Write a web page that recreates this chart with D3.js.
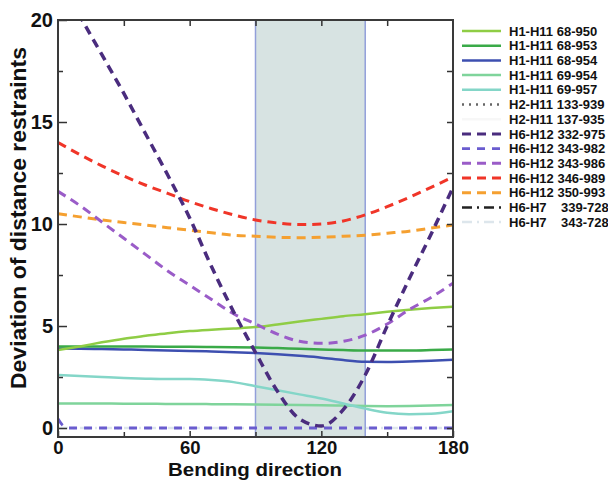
<!DOCTYPE html>
<html>
<head>
<meta charset="utf-8">
<script src="https://cdn.jsdelivr.net/npm/d3@7"></script>
<style>
  body { margin: 0; background: #fff; }
  text { font-family: "Liberation Sans", Arial, Helvetica, sans-serif; font-weight: bold; }
</style>
</head>
<body>
<div id="chart"></div>
<script>
// bending angle samples (degrees)
var angles = [0, 10, 20, 30, 40, 50, 60, 70, 80, 90, 100, 110, 120, 130, 140, 150, 160, 170, 180];
var anglesShort = [0, 2, 5, 180];

// deviation values
var dev68_950 = [3.82, 4.0, 4.2, 4.38, 4.52, 4.65, 4.75, 4.82, 4.88, 4.95, 5.08, 5.22, 5.35, 5.48, 5.58, 5.7, 5.8, 5.88, 5.95];
var dev68_953 = [4.0, 4.0, 4.0, 4.0, 3.99, 3.98, 3.98, 3.97, 3.96, 3.95, 3.92, 3.88, 3.85, 3.82, 3.8, 3.8, 3.8, 3.82, 3.85];
var dev68_954 = [3.9, 3.89, 3.87, 3.85, 3.83, 3.8, 3.78, 3.75, 3.72, 3.68, 3.62, 3.54, 3.45, 3.33, 3.25, 3.24, 3.26, 3.3, 3.35];
var dev69_954 = [1.2, 1.2, 1.2, 1.19, 1.19, 1.18, 1.18, 1.17, 1.16, 1.15, 1.14, 1.13, 1.12, 1.1, 1.08, 1.07, 1.08, 1.1, 1.13];
var dev69_957 = [2.6, 2.55, 2.5, 2.45, 2.42, 2.4, 2.4, 2.35, 2.25, 2.05, 1.85, 1.65, 1.45, 1.2, 0.95, 0.75, 0.68, 0.7, 0.82];
var dev332_975 = [22.3, 20.2, 18.3, 16.4, 14.4, 12.4, 10.3, 7.9, 5.7, 3.7, 1.8, 0.45, 0.1, 0.9, 2.6, 5.0, 7.3, 9.5, 11.8];
var dev343_982 = [0.45, 0.15, 0, 0];
var dev343_986 = [11.6, 10.9, 10.1, 9.3, 8.5, 7.7, 7.0, 6.3, 5.6, 5.1, 4.6, 4.25, 4.15, 4.25, 4.55, 5.1, 5.8, 6.4, 7.1];
var dev346_989 = [14.0, 13.4, 12.85, 12.35, 11.9, 11.5, 11.1, 10.75, 10.45, 10.2, 10.05, 9.97, 10.0, 10.15, 10.45, 10.85, 11.3, 11.8, 12.3];
var dev350_993 = [10.5, 10.35, 10.2, 10.07, 9.95, 9.82, 9.7, 9.57, 9.45, 9.4, 9.35, 9.33, 9.35, 9.4, 9.45, 9.55, 9.65, 9.8, 9.95];
var dev343_728 = [0, 0, 0, 0];

var legendLabels = ["H1-H11 68-950", "H1-H11 68-953", "H1-H11 68-954", "H1-H11 69-954", "H1-H11 69-957",
  "H2-H11 133-939", "H2-H11 137-935", "H6-H12 332-975", "H6-H12 343-982", "H6-H12 343-986",
  "H6-H12 346-989", "H6-H12 350-993", "H6-H7\u00a0\u00a0\u00a0 339-728", "H6-H7\u00a0\u00a0\u00a0 343-728"];

var band = [90, 140];
var xTicks = [0, 60, 120, 180];
var yTicks = [0, 5, 10, 15, 20];

// one entry per legend row; lines with no visible data have xs = null
var series = [
  {xs: angles, ys: dev68_950, color: "#8fcd45", dash: null, w: 2.5},
  {xs: angles, ys: dev68_953, color: "#3aaa48", dash: null, w: 2.5},
  {xs: angles, ys: dev68_954, color: "#3d4fb0", dash: null, w: 2.5},
  {xs: angles, ys: dev69_954, color: "#7fd49b", dash: null, w: 2.5},
  {xs: angles, ys: dev69_957, color: "#84d6c8", dash: null, w: 2.5},
  {xs: null, ys: null, color: "#666", dash: "2,5", w: 2.5},
  {xs: null, ys: null, color: "#f7f7f7", dash: null, w: 2.5},
  {xs: angles, ys: dev332_975, color: "#4a2c7e", dash: "9,6", w: 3.5},
  {xs: anglesShort, ys: dev343_982, color: "#6a5ccf", dash: "8,7", w: 2.8},
  {xs: angles, ys: dev343_986, color: "#9a5cc8", dash: "9,6", w: 3},
  {xs: angles, ys: dev346_989, color: "#f03528", dash: "9,6", w: 3},
  {xs: angles, ys: dev350_993, color: "#f5a030", dash: "9,6", w: 3},
  {xs: null, ys: null, color: "#222", dash: "10,5,2,5", w: 2.5},
  {xs: anglesShort, ys: dev343_728, color: "#dde6ec", dash: "10,5,2,5", w: 2.5}
];

var margin = {top: 20, left: 58},
    width = 395,
    height = 417;

var svg = d3.select("#chart")
  .append("svg")
    .attr("width", 608)
    .attr("height", 481);

var g = svg.append("g")
    .attr("transform", "translate(" + margin.left + "," + margin.top + ")");

var x = d3.scaleLinear().domain([0, 180]).range([0, width]);
var y = d3.scaleLinear().domain([-0.44, 20]).range([height, 0]);

g.append("clipPath").attr("id", "clip")
  .append("rect").attr("width", width).attr("height", height);

// shaded band
g.append("rect")
  .attr("x", x(band[0]))
  .attr("y", 0)
  .attr("width", x(band[1]) - x(band[0]))
  .attr("height", height)
  .attr("fill", "#d7e3e2");
band.forEach(function(b) {
  g.append("line")
    .attr("x1", x(b)).attr("x2", x(b))
    .attr("y1", 0).attr("y2", height)
    .attr("stroke", "#929fda").attr("stroke-width", 1.5);
});

// lines (draw the zero-level ones first)
var line = d3.line()
  .x(function(d) { return x(d[0]); })
  .y(function(d) { return y(d[1]); })
  .curve(d3.curveMonotoneX);

var order = [13, 8, 3, 4, 2, 1, 0, 11, 10, 9, 7];
var plot = g.append("g").attr("clip-path", "url(#clip)");
order.forEach(function(i) {
  var s = series[i];
  var pts = s.xs.map(function(a, k) { return [a, s.ys[k]]; });
  plot.append("path")
    .attr("d", line(pts))
    .attr("fill", "none")
    .attr("stroke", s.color)
    .attr("stroke-width", s.w)
    .attr("stroke-dasharray", s.dash);
});

// axes: ticks point inward on all four sides
function style(a, size) {
  a.select(".domain").remove();
  a.selectAll(".tick line").attr("stroke", "#333").attr("stroke-width", 1.5);
  a.selectAll("text").attr("font-size", size || 20).attr("fill", "#111");
}

g.append("g").attr("transform", "translate(0," + height + ")")
  .call(d3.axisBottom(x).tickValues(xTicks).tickSize(-6).tickPadding(4).tickFormat(d3.format("d")))
  .call(style, 18.5);
g.append("g").attr("transform", "translate(0," + height + ")")
  .call(d3.axisBottom(x).tickValues([30, 90, 150]).tickSize(-5).tickFormat(""))
  .call(style);
g.append("g")
  .call(d3.axisTop(x).tickValues([30, 60, 90, 120, 150]).tickSize(-6).tickFormat(""))
  .call(style);

g.append("g")
  .call(d3.axisLeft(y).tickValues(yTicks).tickSize(-9).tickPadding(5))
  .call(style, 20);
g.append("g")
  .call(d3.axisLeft(y).tickValues([2.5, 7.5, 12.5, 17.5]).tickSize(-5).tickFormat(""))
  .call(style);
g.append("g").attr("transform", "translate(" + width + ",0)")
  .call(d3.axisRight(y).tickValues([0, 2.5, 5, 7.5, 10, 12.5, 15, 17.5]).tickSize(-6).tickFormat(""))
  .call(style);

// frame
g.append("rect")
  .attr("width", width).attr("height", height)
  .attr("fill", "none").attr("stroke", "#3a3a3a").attr("stroke-width", 2);

// axis titles
svg.append("text")
  .attr("x", 255)
  .attr("y", 476)
  .attr("text-anchor", "middle")
  .attr("font-size", 19)
  .attr("textLength", 174)
  .attr("lengthAdjust", "spacingAndGlyphs")
  .attr("fill", "#111")
  .text("Bending direction");

svg.append("text")
  .attr("transform", "translate(26,218) rotate(-90)")
  .attr("text-anchor", "middle")
  .attr("font-size", 21.5)
  .attr("textLength", 342)
  .attr("lengthAdjust", "spacingAndGlyphs")
  .attr("fill", "#111")
  .text("Deviation of distance restraints");

// legend
var legend = svg.append("g").attr("transform", "translate(462,31)");
legendLabels.forEach(function(lab, i) {
  var s = series[i];
  var row = legend.append("g").attr("transform", "translate(0," + (i * 14.7) + ")");
  row.append("line")
    .attr("x1", 0).attr("x2", 39)
    .attr("stroke", s.color)
    .attr("stroke-width", s.w > 3 ? 3 : s.w)
    .attr("stroke-dasharray", s.dash);
  row.append("text")
    .attr("x", 47)
    .attr("dy", "0.36em")
    .attr("font-size", 13)
    .attr("fill", "#111")
    .text(lab);
});
</script>
</body>
</html>
